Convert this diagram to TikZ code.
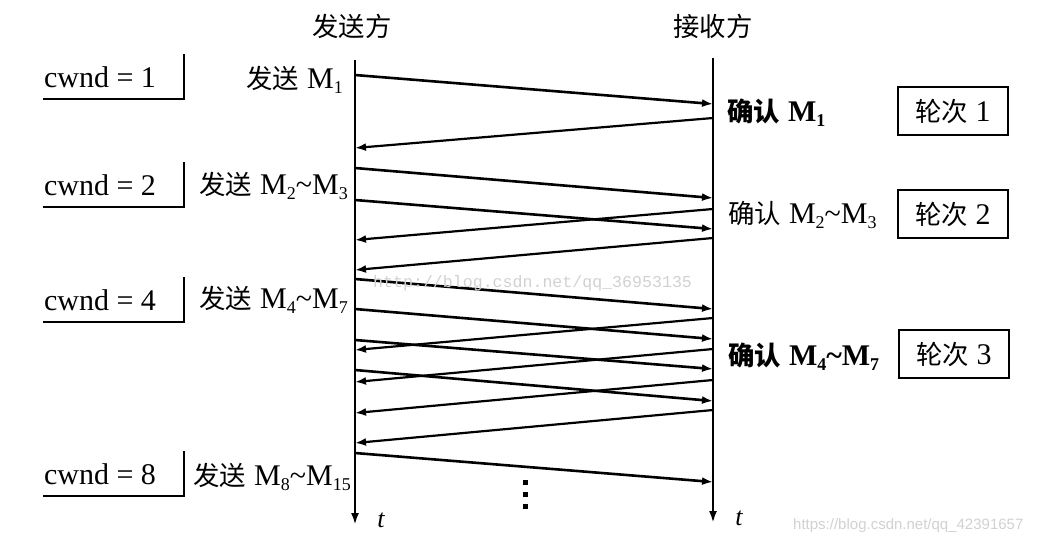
\documentclass[tikz,border=0pt]{standalone}
\usepackage{fontspec}
\setmainfont{Liberation Serif}
\setmonofont{Liberation Mono}
\setsansfont{Liberation Sans}
\newfontfamily\cjk{Noto Sans CJK SC}[Scale=0.88]
\usetikzlibrary{arrows.meta}
\newcommand\msub[1]{\raisebox{-0.35ex}{\fontsize{18}{18}\selectfont #1}}
\newcommand\tld{\textasciitilde}
\newcommand\gp{\hspace{8pt}}
\begin{document}
\begin{tikzpicture}[x=1pt,y=-1pt,
  lbl/.style={inner sep=0pt, font=\fontsize{30}{34}\selectfont},
  msg/.style={line width=2.6pt, -{Latex[length=11pt,width=8pt]}},
  ack/.style={line width=2.2pt, -{Latex[length=11pt,width=8pt]}},
  axisline/.style={line width=2.6pt, -{Latex[length=12pt,width=8pt]}},
  roundbox/.style={draw, line width=1.6pt, minimum width=110pt, minimum height=48pt, inner sep=0pt, font=\fontsize{30}{34}\selectfont},
  cwline/.style={line width=2.2pt},
  wm/.style={inner sep=0pt, text=black!18}
]
\useasboundingbox (0,0) rectangle (1046,544);

% axes
\coordinate (stop) at (355,60);
\coordinate (sbot) at (355,525);
\coordinate (rtop) at (713,58);
\coordinate (rbot) at (713,523);
\draw[axisline] (stop) -- (sbot);
\draw[axisline] (rtop) -- (rbot);
\node[lbl] (tsend) at (352,26) {\cjk 发送方};
\node[lbl] (trecv) at (713,26) {\cjk 接收方};
\node[lbl, font=\fontsize{26}{30}\selectfont\itshape] (ts) at (381,520) {t};
\node[lbl, font=\fontsize{26}{30}\selectfont\itshape] (tr) at (739,518) {t};

% data segments
\foreach \i/\a/\b in {1/75/104, 2/168/198, 3/200/229, 4/279/309, 5/309/339, 6/340/369, 7/370/401, 8/453/482} {
  \coordinate (d\i s) at (355,\a);
  \coordinate (d\i r) at (713,\b);
  \draw[msg] (d\i s) -- (d\i r);
}
% acks
\foreach \i/\a/\b in {1/118/148, 2/209/240, 3/238/270, 4/318/350, 5/349/382, 6/380/413, 7/410/443} {
  \coordinate (a\i r) at (713,\a);
  \coordinate (a\i s) at (355,\b);
  \draw[ack] (a\i r) -- (a\i s);
}

% dots
\foreach \y/\n in {482/1, 494/2, 506/3}
  \node[fill, inner sep=0pt, minimum size=5pt] (dot\n) at (525,\y) {};

% cwnd labels
\foreach \n/\y in {1/77, 2/185, 4/300, 8/474} {
  \node[lbl] (cw\n) at (100,\y) {cwnd = \n};
  \draw[cwline] (43,\y+22) -| (184,\y-23);
}

% sender labels
\node[lbl, anchor=east] (s1) at (348,80) {{\cjk 发送}\gp M\msub{1}\,};
\node[lbl, anchor=east] (s2) at (348,186) {{\cjk 发送}\gp M\msub{2}\tld M\msub{3}};
\node[lbl, anchor=east] (s4) at (348,300) {{\cjk 发送}\gp M\msub{4}\tld M\msub{7}};
\node[lbl, anchor=east] (s8) at (351,477) {{\cjk 发送}\gp M\msub{8}\tld M\msub{15}};

% receiver labels
\node[lbl, anchor=west, font=\fontsize{30}{34}\selectfont\bfseries] (r1) at (727,113) {{\cjk\bfseries 确认}\gp M\msub{\bfseries 1}};
\node[lbl, anchor=west] (r2) at (728,215) {{\cjk 确认}\gp M\msub{2}\tld M\msub{3}};
\node[lbl, anchor=west, font=\fontsize{30}{34}\selectfont\bfseries] (r4) at (728,357) {{\cjk\bfseries 确认}\gp M\msub{\bfseries 4}\tld M\msub{\bfseries 7}};

% round boxes
\node[roundbox, line width=2.2pt] (rd1) at (953,111) {{\cjk 轮次} 1};
\node[roundbox] (rd2) at (953,214) {{\cjk 轮次} 2};
\node[roundbox, line width=2.2pt] (rd3) at (954,354) {{\cjk 轮次} 3};

% watermarks
\node[wm, font=\fontsize{16.6}{18}\ttfamily, anchor=west] (wm1) at (373,283) {http://blog.csdn.net/qq\_36953135};
\node[wm, font=\fontsize{15}{17}\sffamily, anchor=west] (wm2) at (793,526) {https://blog.csdn.net/qq\_42391657};
\end{tikzpicture}
\end{document}
